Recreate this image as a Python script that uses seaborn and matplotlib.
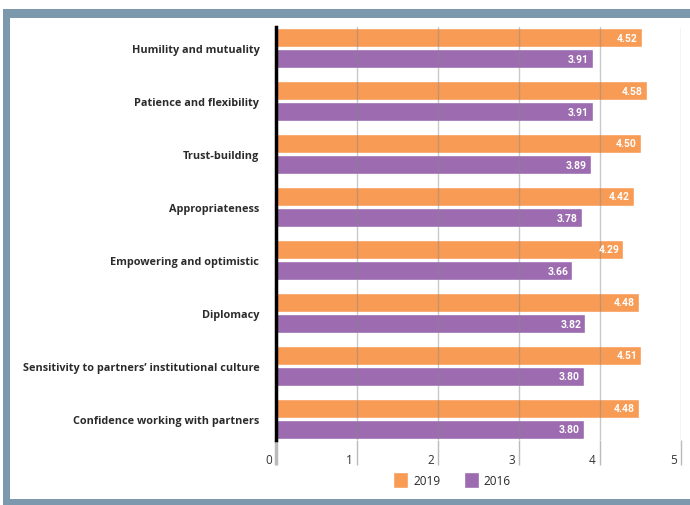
import pandas as pd
import numpy as np
import matplotlib.pyplot as plt
import seaborn as sns
from matplotlib.patches import Rectangle, Patch

## Dados do gráfico
categorias = [
    "Humility and mutuality",
    "Patience and flexibility",
    "Trust-building",
    "Appropriateness",
    "Empowering and optimistic",
    "Diplomacy",
    "Sensitivity to partners\u2019 institutional culture",
    "Confidence working with partners",
]
valores_2019 = [4.52, 4.58, 4.50, 4.42, 4.29, 4.48, 4.51, 4.48]
valores_2016 = [3.91, 3.91, 3.89, 3.78, 3.66, 3.82, 3.80, 3.80]
anos = ["2019", "2016"]
ticks_x = [0, 1, 2, 3, 4, 5]

cor_laranja = "#F79B55"
cor_roxo = "#9C6BB0"
cor_borda = "#7B98AD"

df = pd.DataFrame({
    "item": categorias * 2,
    "score": valores_2019 + valores_2016,
    "ano": [anos[0]] * len(categorias) + [anos[1]] * len(categorias),
})

sns.set_theme(style="white")
plt.rcParams['font.family'] = ['Open Sans', 'DejaVu Sans']

W, H = 690, 506
fig = plt.figure(figsize=(W / 100, H / 100), dpi=100)
fig.patch.set_facecolor("white")

# Moldura azul-acinzentada
fig.add_artist(Rectangle((3 / W, 0), 2, 1 - 10 / H, transform=fig.transFigure,
                         facecolor=cor_borda, edgecolor="none", zorder=0))
fig.add_artist(Rectangle((10 / W, 6 / H), 2, 1 - 19 / H - 6 / H, transform=fig.transFigure,
                         facecolor="white", edgecolor="none", zorder=0))

ax = fig.add_axes([276 / W, 1 - 441 / H, (681 - 276) / W, (441 - 28) / H])
ax.patch.set_alpha(0)

sns.barplot(data=df, y="item", x="score", hue="ano", hue_order=anos, orient="h",
            palette=[cor_laranja, cor_roxo], width=0.8, gap=0.12, saturation=1,
            legend=False, ax=ax)

ax.set_xlim(0, 5)
ax.set_ylim(7.4, -0.4)
ax.set_xlabel("")
ax.set_ylabel("")

# Rótulos de valores dentro das barras
for cont in ax.containers:
    for barra in cont:
        v = barra.get_width()
        ax.annotate(f"{v:.2f}", (v, barra.get_y() + barra.get_height() / 2),
                    xytext=(-3, 0), textcoords="offset points", ha="right", va="center",
                    color="white", fontsize=7.5, fontweight="bold",
                    family=['Liberation Sans Narrow', 'Roboto', 'DejaVu Sans'], zorder=5)

# Grade e eixos
ax.set_axisbelow(False)
ax.grid(axis="x", color="#888888", alpha=0.45, lw=1)
ax.grid(axis="y", visible=False)
for s in ["top", "right", "bottom"]:
    ax.spines[s].set_visible(False)
ax.spines["left"].set_color("black")
ax.spines["left"].set_linewidth(2.5)
ax.spines["left"].set_zorder(6)

ax.set_xticks(ticks_x)
ax.set_xticklabels([])
ax.tick_params(axis="x", bottom=True, length=18, width=1, color="#bbbbbb", direction="out")
t0 = ax.xaxis.get_major_ticks()[0].tick1line
t0.set_color("black")
t0.set_markeredgewidth(2.5)
for t in ticks_x:
    ax.annotate(str(t), (t, 0), xycoords=("data", "axes fraction"),
                xytext=(-3, -14), textcoords="offset points", ha="right", va="center",
                fontsize=8.5, color="#333333")

ax.tick_params(axis="y", left=False, pad=6)
for lab in ax.get_yticklabels():
    lab.set_fontsize(7.8)
    lab.set_fontweight("bold")
    lab.set_color("#2b2b2b")

# Legenda
handles = [Patch(facecolor=cor_laranja, label=anos[0]), Patch(facecolor=cor_roxo, label=anos[1])]
fig.legend(handles=handles, loc="center", bbox_to_anchor=(452 / W, 1 - 481 / H), ncol=2,
           frameon=False, fontsize=8.5, handlelength=1.3, handleheight=1.6,
           handletextpad=0.4, columnspacing=2.0)

plt.savefig("out.png", dpi=100)
